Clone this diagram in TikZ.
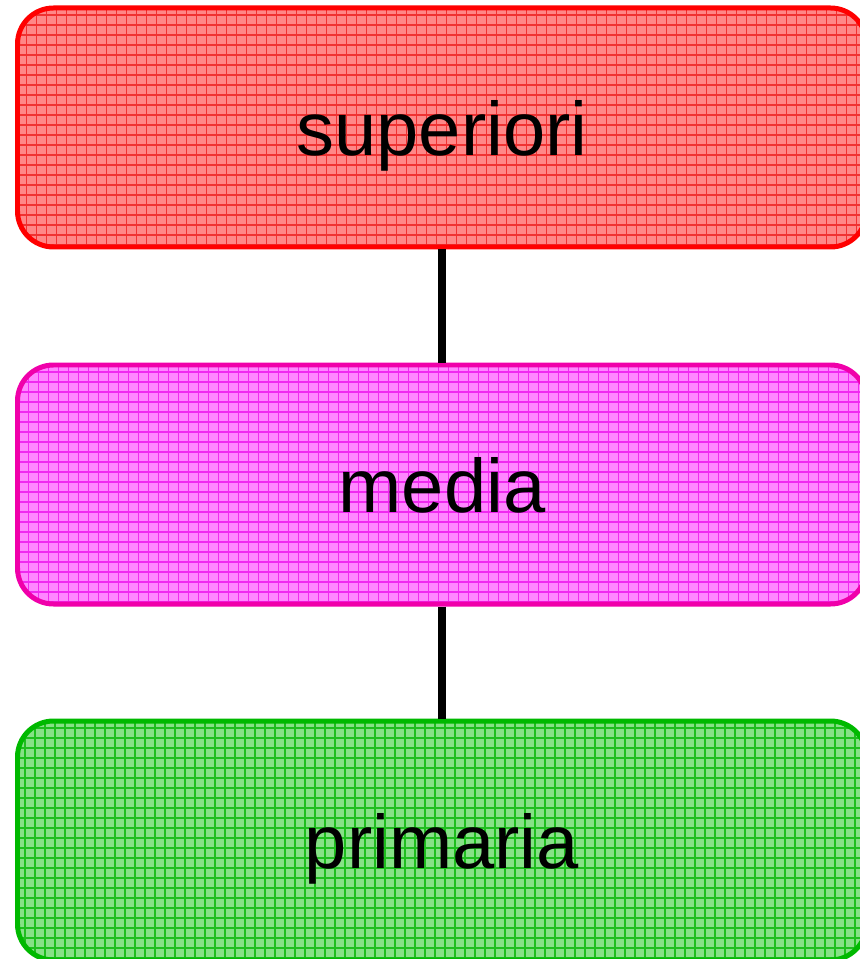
\documentclass[tikz,border=0pt]{standalone}
\usepackage{fontspec}
\setmainfont{Liberation Sans}

\definecolor{supline}{RGB}{255,0,0}
\definecolor{supfill}{RGB}{255,135,135}
\definecolor{supgrid}{RGB}{240,50,50}
\definecolor{medline}{RGB}{240,0,170}
\definecolor{medfill}{RGB}{255,135,255}
\definecolor{medgrid}{RGB}{240,40,240}
\definecolor{priline}{RGB}{0,185,0}
\definecolor{prifill}{RGB}{135,225,135}
\definecolor{prigrid}{RGB}{30,190,30}

\tikzset{
  level/.style n args={3}{draw=#1, fill=#2, line width=1.42pt,
    rounded corners=0.36cm, minimum width=8.49cm, minimum height=2.39cm,
    font=\fontsize{21.6}{26}\selectfont, text depth=0pt,
    path picture={\draw[#3, line width=0.35pt, step=0.1]
      (path picture bounding box.south west) grid (path picture bounding box.north east);}},
  link/.style={line width=2.3pt, black}
}

\begin{document}
\begin{tikzpicture}
\useasboundingbox (0,0) rectangle (8.59,-9.59);
\node[level={supline}{supfill}{supgrid}] (sup) at (4.42,-1.275) {superiori};
\node[level={medline}{medfill}{medgrid}] (med) at (4.42,-4.845) {media};
\node[level={priline}{prifill}{prigrid}] (pri) at (4.42,-8.405) {primaria};
\draw[link] (sup) -- (med);
\draw[link] (med) -- (pri);
\end{tikzpicture}
\end{document}
